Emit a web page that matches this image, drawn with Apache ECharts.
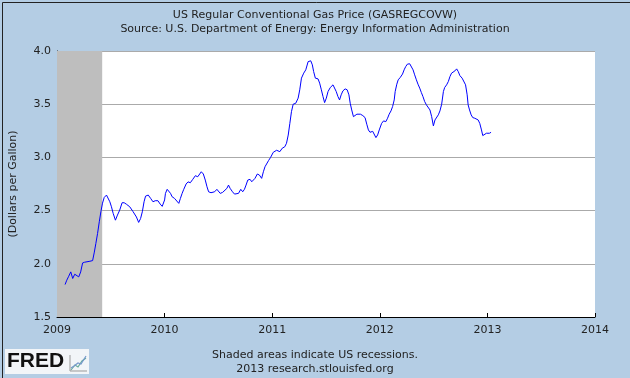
<!DOCTYPE html>
<html><head><meta charset="utf-8">
<script src="https://cdn.jsdelivr.net/npm/echarts@6/dist/echarts.min.js"></script>
<style>html,body{margin:0;padding:0;background:#B4CDE4}#c{width:630px;height:378px}</style>
</head><body><div id="c"></div>
<script>
const weekYears = [
2009.075,2009.091,2009.109,2009.128,2009.146,2009.165,2009.183,2009.202,2009.220,2009.238,
2009.257,2009.275,2009.306,2009.331,2009.347,2009.361,2009.377,2009.393,2009.408,2009.423,
2009.439,2009.460,2009.476,2009.491,2009.506,2009.522,2009.543,2009.562,2009.583,2009.605,
2009.624,2009.645,2009.676,2009.707,2009.738,2009.759,2009.777,2009.793,2009.809,2009.823,
2009.848,2009.870,2009.892,2009.913,2009.938,2009.959,2009.978,2010.000,2010.008,2010.024,
2010.040,2010.055,2010.070,2010.092,2010.110,2010.132,2010.147,2010.163,2010.178,2010.200,
2010.218,2010.239,2010.262,2010.286,2010.308,2010.326,2010.341,2010.360,2010.378,2010.394,
2010.409,2010.431,2010.449,2010.465,2010.486,2010.502,2010.517,2010.539,2010.557,2010.579,
2010.594,2010.609,2010.631,2010.650,2010.668,2010.687,2010.708,2010.726,2010.742,2010.757,
2010.773,2010.794,2010.810,2010.825,2010.840,2010.862,2010.881,2010.902,2010.918,2010.933,
2010.950,2010.966,2010.985,2011.010,2011.041,2011.071,2011.093,2011.117,2011.133,2011.149,
2011.164,2011.179,2011.195,2011.219,2011.241,2011.256,2011.272,2011.293,2011.312,2011.334,
2011.358,2011.373,2011.385,2011.401,2011.426,2011.441,2011.457,2011.472,2011.487,2011.503,
2011.519,2011.540,2011.565,2011.580,2011.595,2011.611,2011.626,2011.641,2011.657,2011.678,
2011.697,2011.713,2011.725,2011.739,2011.755,2011.770,2011.787,2011.801,2011.820,2011.842,
2011.863,2011.879,2011.894,2011.909,2011.934,2011.948,2011.964,2011.980,2011.995,2012.017,
2012.035,2012.056,2012.072,2012.087,2012.104,2012.119,2012.134,2012.143,2012.158,2012.171,
2012.189,2012.211,2012.226,2012.241,2012.257,2012.278,2012.294,2012.309,2012.324,2012.340,
2012.355,2012.371,2012.386,2012.401,2012.417,2012.433,2012.451,2012.466,2012.482,2012.498,
2012.513,2012.529,2012.544,2012.559,2012.575,2012.591,2012.603,2012.621,2012.637,2012.652,
2012.667,2012.683,2012.698,2012.714,2012.729,2012.744,2012.765,2012.780,2012.797,2012.812,
2012.821,2012.834,2012.849,2012.864,2012.883,2012.898,2012.914,2012.929,2012.945,2012.957,
2012.975,2012.991,2013.003,2013.019,2013.034
];
// US regular conventional gas price, dollars per gallon
const prices = [
1.805,1.846,1.883,1.924,1.862,1.902,1.905,1.877,1.924,2.008,
2.015,2.024,2.024,2.030,2.110,2.190,2.285,2.395,2.490,2.570,
2.624,2.646,2.630,2.583,2.536,2.474,2.410,2.458,2.505,2.574,
2.574,2.560,2.536,2.490,2.440,2.389,2.426,2.489,2.583,2.636,
2.646,2.615,2.583,2.593,2.593,2.561,2.540,2.600,2.662,2.700,
2.693,2.662,2.630,2.615,2.600,2.568,2.615,2.662,2.700,2.750,
2.770,2.762,2.794,2.828,2.818,2.834,2.865,2.844,2.787,2.724,
2.677,2.668,2.662,2.677,2.700,2.684,2.662,2.671,2.677,2.709,
2.740,2.709,2.677,2.655,2.639,2.662,2.700,2.677,2.700,2.740,
2.787,2.794,2.771,2.756,2.803,2.844,2.834,2.803,2.865,2.912,
2.930,2.970,3.000,3.048,3.067,3.054,3.086,3.100,3.133,3.210,
3.320,3.430,3.500,3.509,3.557,3.635,3.745,3.792,3.823,3.900,
3.908,3.870,3.807,3.745,3.738,3.698,3.635,3.572,3.515,3.557,
3.619,3.657,3.682,3.666,3.619,3.572,3.540,3.588,3.625,3.644,
3.635,3.588,3.509,3.446,3.383,3.368,3.406,3.421,3.406,3.393,
3.374,3.312,3.258,3.236,3.245,3.227,3.186,3.211,3.258,3.320,
3.343,3.336,3.368,3.406,3.437,3.478,3.540,3.619,3.688,3.729,
3.750,3.783,3.823,3.854,3.877,3.880,3.863,3.823,3.776,3.729,
3.688,3.651,3.610,3.572,3.525,3.494,3.478,3.446,3.383,3.296,
3.352,3.361,3.400,3.437,3.500,3.619,3.657,3.682,3.713,3.760,
3.792,3.807,3.813,3.832,3.807,3.769,3.745,3.738,3.682,3.588,
3.494,3.446,3.400,3.374,3.368,3.383,3.352,3.320,3.258,3.205,
3.205,3.227,3.242,3.227,3.236
];
const yearTicks = [2009,2010,2011,2012,2013,2014];
const recession = [2009.0, 2009.42];

const FONT = 'DejaVu Sans';
const chart = echarts.init(document.getElementById('c'), null, {renderer:'canvas'});
const series = weekYears.map((x,i)=>[x, prices[i]]);
chart.setOption({
  backgroundColor:'#B4CDE4',
  animation:false,
  textStyle:{fontFamily:FONT},
  title:[
    {text:'US Regular Conventional Gas Price (GASREGCOVW)', left:'center', top:5,
     textStyle:{fontSize:11, fontWeight:'normal', color:'#222', fontFamily:FONT}},
    {text:'Source: U.S. Department of Energy: Energy Information Administration', left:'center', top:19,
     textStyle:{fontSize:11, fontWeight:'normal', color:'#222', fontFamily:FONT}},
    {text:'Shaded areas indicate US recessions.', left:'center', top:345,
     textStyle:{fontSize:11, fontWeight:'normal', color:'#222', fontFamily:FONT}},
    {text:'2013 research.stlouisfed.org', left:'center', top:359,
     textStyle:{fontSize:11, fontWeight:'normal', color:'#222', fontFamily:FONT}}
  ],
  grid:{left:54, right:35, top:51, bottom:61, show:true, backgroundColor:'#FFFFFF', borderWidth:0},
  xAxis:{type:'value', min:yearTicks[0], max:yearTicks[yearTicks.length-1], interval:1,
    axisLine:{show:true, lineStyle:{color:'#000', width:1}},
    axisTick:{show:true, inside:true, length:4, lineStyle:{color:'#000'}},
    axisLabel:{color:'#222', fontSize:11, margin:8, fontFamily:FONT, formatter:v=>String(v)},
    splitLine:{show:false}},
  yAxis:{type:'value', min:1.5, max:4.0, interval:0.5,
    name:'(Dollars per Gallon)', nameLocation:'middle', nameGap:38, nameRotate:90,
    nameTextStyle:{color:'#222', fontSize:11, fontFamily:FONT},
    axisLine:{show:true, lineStyle:{color:'#000', width:1}},
    axisTick:{show:true, inside:true, length:5, lineStyle:{color:'#000'}},
    axisLabel:{color:'#222', fontSize:11, margin:6, fontFamily:FONT, formatter:v=>v.toFixed(1)},
    splitLine:{show:true, lineStyle:{color:'#AAAAAA', width:1}}},
  series:[{
    type:'line', data:series, showSymbol:false, symbol:'none',
    lineStyle:{color:'#0000FF', width:1}, z:3,
    markArea:{silent:true, itemStyle:{color:'#BEBEBE'}, data:[[{xAxis:recession[0]},{xAxis:recession[1]}]]}
  }],
  graphic:[
    {type:'rect', left:0, top:0, shape:{x:0.5,y:0.5,width:629,height:377}, style:{fill:null, stroke:'#222', lineWidth:1}, z:100},
    {type:'rect', shape:{x:5,y:349,width:84,height:25}, style:{fill:'#F2F5F8'}, z:50},
    {type:'text', x:7, y:351, style:{text:'FRED', font:'bold 21px "Liberation Sans"', fill:'#111'}, z:51},
    {type:'polyline', shape:{points:[[71,370],[75,365],[78,367],[82,361],[86,358]]}, style:{stroke:'#6a9', lineWidth:1.2, fill:null}, z:51},
    {type:'polyline', shape:{points:[[71,368],[74,366],[78,363],[81,364],[86,356]]}, style:{stroke:'#79c', lineWidth:1.2, fill:null}, z:51},
    {type:'line', shape:{x1:70,y1:371,x2:87,y2:371}, style:{stroke:'#999', lineWidth:1}, z:51},
    {type:'line', shape:{x1:70,y1:355,x2:70,y2:371}, style:{stroke:'#999', lineWidth:1}, z:51}
  ]
});
</script></body></html>
